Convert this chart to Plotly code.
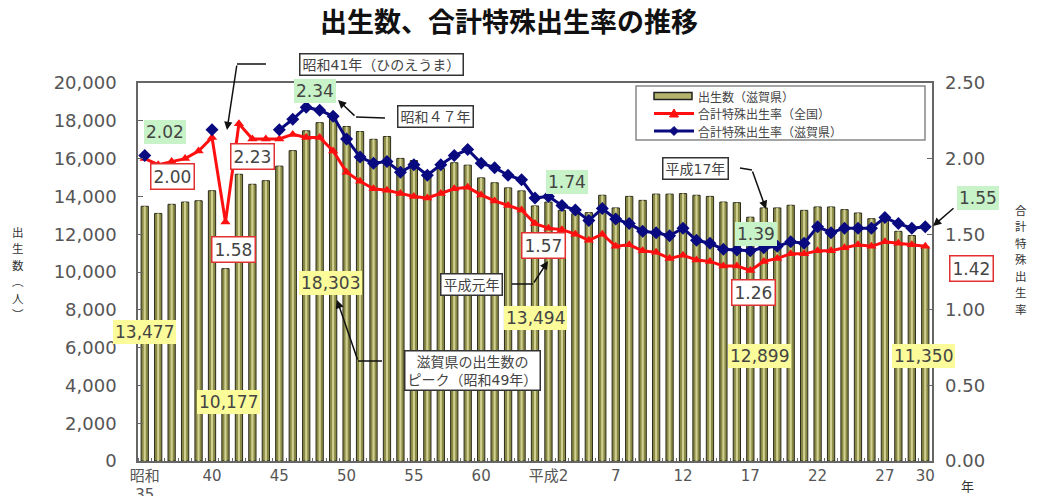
import plotly.graph_objects as go

# ---------------- data ----------------
years = list(range(1960, 2019))

births_shiga = [
    13477, 13100, 13580, 13700, 13770, 14300, 10177, 15170, 14640, 14830,
    15600, 16420, 17470, 17900, 18303, 17700, 17430, 17020, 17170, 16010,
    15900, 15320, 15480, 15780, 15650, 14980, 14720, 14450, 14290, 13494,
    13700, 13260, 13085, 13140, 14060, 13390, 14000, 13790, 14120, 14120,
    14150, 14060, 14000, 13700, 13670, 12899, 13390, 13390, 13530, 13260,
    13440, 13440, 13300, 13120, 12820, 12900, 12150, 11930, 11350,
]

tfr_national = [
    2.00, 1.96, 1.98, 2.00, 2.05, 2.14, 1.58, 2.23, 2.13, 2.13,
    2.13, 2.16, 2.14, 2.14, 2.05, 1.91, 1.85, 1.80, 1.79, 1.77,
    1.75, 1.74, 1.77, 1.80, 1.81, 1.76, 1.72, 1.69, 1.66, 1.57,
    1.54, 1.53, 1.50, 1.46, 1.50, 1.42, 1.43, 1.39, 1.38, 1.34,
    1.36, 1.33, 1.32, 1.29, 1.29, 1.26, 1.32, 1.34, 1.37, 1.37,
    1.39, 1.39, 1.41, 1.43, 1.42, 1.45, 1.44, 1.43, 1.42,
]

# Shiga TFR: only census years (1960, 1965) before 1970
tfr_shiga = [
    2.02, None, None, None, None, 2.19, None, None, None, None,
    2.19, 2.26, 2.34, 2.32, 2.28, 2.13, 2.01, 1.97, 1.98, 1.91,
    1.96, 1.89, 1.96, 2.02, 2.06, 1.97, 1.94, 1.89, 1.86, 1.74,
    1.75, 1.69, 1.66, 1.59, 1.67, 1.60, 1.57, 1.52, 1.51, 1.49,
    1.54, 1.46, 1.44, 1.40, 1.395, 1.39, 1.41, 1.42, 1.45, 1.44,
    1.55, 1.51, 1.54, 1.54, 1.54, 1.61, 1.57, 1.54, 1.55,
]

x_tick_years = [1960, 1965, 1970, 1975, 1980, 1985, 1990, 1995, 2000, 2005, 2010, 2015, 2018]
x_tick_text = ["昭和<br>35", "40", "45", "50", "55", "60", "平成2", "7", "12", "17", "22", "27", "30"]

left_ticks = [0, 2000, 4000, 6000, 8000, 10000, 12000, 14000, 16000, 18000, 20000]
right_ticks = [0.0, 0.5, 1.0, 1.5, 2.0, 2.5]

legend_names = ["出生数（滋賀県）", "合計特殊出生率（全国）", "合計特殊出生率（滋賀県）"]
left_title_chars = ["出", "生", "数", "︵", "人", "︶"]
right_title_chars = ["合", "計", "特", "殊", "出", "生", "率"]

# ---------------- layout geometry ----------------
W, H = 1037, 496
L, R, T, B = 138, 932, 83, 461


def X(px):
    return (px - L) / (R - L)


def Y(py):
    return (B - py) / (B - T)


FONT = "DejaVu Sans, Noto Sans CJK JP, sans-serif"
JFONT = "Noto Sans CJK JP, sans-serif"
GRAY = "#555555"
BAR_FILL = "#8a8a46"
BAR_LINE = "#2b2b1c"
BAR_HI = "#d0d090"
RED = "#ff1010"
NAVY = "#0a0a80"

fig = go.Figure()

fig.add_trace(go.Bar(
    x=years, y=births_shiga, name=legend_names[0], width=0.54, showlegend=False,
    marker=dict(color=BAR_FILL, line=dict(color=BAR_LINE, width=1)),
))
fig.add_trace(go.Bar(
    x=years, y=births_shiga, width=0.16, showlegend=False, hoverinfo="skip",
    marker=dict(color=BAR_HI, line=dict(width=0)),
))
fig.add_trace(go.Scatter(
    x=years, y=tfr_national, name=legend_names[1], yaxis="y2", mode="lines+markers",
    line=dict(color=RED, width=3), showlegend=False,
    marker=dict(symbol="triangle-up", size=9, color=RED),
))
fig.add_trace(go.Scatter(
    x=years, y=tfr_shiga, name=legend_names[2], yaxis="y2", mode="lines+markers",
    line=dict(color=NAVY, width=3), connectgaps=False, showlegend=False,
    marker=dict(symbol="diamond", size=10, color=NAVY),
))

annotations = []
shapes = []


def box(text, cx, cy, kind, size=16):
    styles = {
        "green": dict(bgcolor="#c8f3c8", bordercolor="rgba(0,0,0,0)", borderwidth=0),
        "red": dict(bgcolor="#ffffff", bordercolor="#e23030", borderwidth=1.5),
        "yellow": dict(bgcolor="#fbfb9a", bordercolor="rgba(0,0,0,0)", borderwidth=0),
        "black": dict(bgcolor="#ffffff", bordercolor="#333333", borderwidth=1.5),
    }
    annotations.append(dict(
        text=text, x=X(cx), y=Y(cy), xref="paper", yref="paper",
        showarrow=False, xanchor="center", yanchor="middle",
        font=dict(size=size, color="#444444", family=FONT),
        borderpad=2, **styles[kind],
    ))


# green (Shiga TFR)
box("2.02", 165, 132, "green", 17)
box("2.34", 315, 91, "green", 17)
box("1.74", 567, 182, "green", 17)
box("1.39", 756, 234, "green", 17)
box("1.55", 978, 198, "green", 17)
# red-bordered (national TFR)
box("2.00", 172, 176, "red", 17)
box("2.23", 252, 156, "red", 17)
box("1.58", 233, 249, "red", 17)
box("1.57", 543, 245, "red", 17)
box("1.26", 753, 292, "red", 17)
box("1.42", 971, 268, "red", 17)
# yellow (births)
box("13,477", 144, 332, "yellow", 17)
box("10,177", 228, 402, "yellow", 17)
box("18,303", 330, 283, "yellow", 17)
box("13,494", 535, 318, "yellow", 17)
box("12,899", 759, 356, "yellow", 17)
box("11,350", 923, 356, "yellow", 17)
# black boxes
box("昭和41年（ひのえうま）", 381, 64, "black", 14)
box("昭和４７年", 435, 116, "black", 14)
box("平成元年", 471, 284, "black", 14)
box("滋賀県の出生数の<br>ピーク（昭和49年）", 472, 370, "black", 14)
box("平成17年", 695, 168, "black", 14)

# arrows (polyline parts as shapes, final segment with arrowhead)
arrow_paths = [
    [(266, 64), (237, 64), (227, 130)],
    [(385, 118), (356, 117), (338, 100)],
    [(512, 284), (533, 284), (548, 261)],
    [(382, 361), (358, 361), (337, 300)],
    [(740, 168), (752, 170), (766, 209)],
    [(955, 207), (933, 226)],
]
for pts in arrow_paths:
    for (x0, y0), (x1, y1) in zip(pts[:-2], pts[1:-1]):
        shapes.append(dict(type="line", xref="paper", yref="paper",
                           x0=X(x0), y0=Y(y0), x1=X(x1), y1=Y(y1),
                           line=dict(color="#111111", width=1.5)))
    (tx, ty), (hx, hy) = pts[-2], pts[-1]
    annotations.append(dict(
        text="", x=X(hx), y=Y(hy), xref="paper", yref="paper",
        ax=tx - hx, ay=ty - hy, axref="pixel", ayref="pixel",
        showarrow=True, arrowhead=2, arrowsize=1.1, arrowwidth=1.5, arrowcolor="#111111",
        standoff=0, startstandoff=0,
    ))

# ---------------- hand-drawn legend ----------------
LG_X0, LG_X1, LG_Y0, LG_Y1 = 636, 925, 86, 140
shapes.append(dict(type="rect", xref="paper", yref="paper", layer="above",
                   x0=X(LG_X0), x1=X(LG_X1), y0=Y(LG_Y1), y1=Y(LG_Y0),
                   fillcolor="white", line=dict(color="#888888", width=1.5)))
rows_y = [96, 113.5, 131]
sx0, sx1, sxm = 654, 694, 674
# bar symbol
shapes.append(dict(type="rect", xref="paper", yref="paper", layer="above",
                   x0=X(sx0), x1=X(sx1 - 2), y0=Y(rows_y[0] + 3.5), y1=Y(rows_y[0] - 3.5),
                   fillcolor="#b4b46c", line=dict(color="#222222", width=1.5)))
# line symbols
for ry, col, kind in [(rows_y[1], RED, "tri"), (rows_y[2], NAVY, "dia")]:
    shapes.append(dict(type="line", xref="paper", yref="paper", layer="above",
                       x0=X(sx0), x1=X(sx1), y0=Y(ry), y1=Y(ry), line=dict(color=col, width=3)))
    if kind == "tri":
        pts = [(sxm - 4.5, ry + 3.5), (sxm + 4.5, ry + 3.5), (sxm, ry - 4.5)]
    else:
        pts = [(sxm - 4.5, ry), (sxm, ry - 4.5), (sxm + 4.5, ry), (sxm, ry + 4.5)]
    path = "M " + " L ".join(f"{X(a):.5f},{Y(b):.5f}" for a, b in pts) + " Z"
    shapes.append(dict(type="path", xref="paper", yref="paper", layer="above",
                       path=path, fillcolor=col, line=dict(color=col, width=1)))
for name, ry in zip(legend_names, rows_y):
    annotations.append(dict(text=name, x=X(696), y=Y(ry), xref="paper", yref="paper",
                            showarrow=False, xanchor="left", yanchor="middle",
                            font=dict(size=12, color="#444444", family=JFONT)))

# vertical axis titles (one character per annotation)
STEP = 16.5
for i, ch in enumerate(left_title_chars):
    cy = 273 + (i - (len(left_title_chars) - 1) / 2) * STEP
    annotations.append(dict(text=ch, x=X(18), y=Y(cy), xref="paper", yref="paper",
                            showarrow=False, xanchor="center", yanchor="middle",
                            font=dict(size=11.5, color="#333333", family=JFONT)))
for i, ch in enumerate(right_title_chars):
    cy = 259 + (i - (len(right_title_chars) - 1) / 2) * STEP
    annotations.append(dict(text=ch, x=X(1021), y=Y(cy), xref="paper", yref="paper",
                            showarrow=False, xanchor="center", yanchor="middle",
                            font=dict(size=11.5, color="#333333", family=JFONT)))
annotations.append(dict(text="年", x=X(967), y=Y(486), xref="paper", yref="paper",
                        showarrow=False, xanchor="center", yanchor="middle",
                        font=dict(size=13, color="#333333", family=JFONT)))

fig.update_layout(
    width=W, height=H, autosize=False,
    margin=dict(l=L, r=W - R, t=T, b=H - B, pad=0, autoexpand=False),
    paper_bgcolor="white", plot_bgcolor="white",
    barmode="overlay", showlegend=False,
    font=dict(family=FONT, color=GRAY),
    title=dict(text="<b>出生数、合計特殊出生率の推移</b>", x=509 / W, y=1 - 23 / H,
               xanchor="center", yanchor="middle", xref="container", yref="container",
               font=dict(size=27, color="#111111", family=JFONT)),
    xaxis=dict(range=[1959.5, 2018.5], tickmode="array", tickvals=x_tick_years, ticktext=x_tick_text,
               ticks="", showgrid=False, showline=True, linecolor="#666666", linewidth=1.5, mirror=True,
               tickfont=dict(size=15, color=GRAY, family=FONT), zeroline=False, automargin=False,
               minor=dict(ticks="inside", tick0=1959.5, dtick=1, ticklen=3, tickcolor="#666666", showgrid=False)),
    yaxis=dict(range=[0, 20000], tickmode="array", tickvals=left_ticks,
               ticktext=[f"{v:,}" for v in left_ticks], automargin=False,
               ticks="inside", ticklen=5, tickcolor="#666666", showgrid=False, zeroline=False,
               showline=True, linecolor="#666666", linewidth=1.5, mirror=True,
               tickfont=dict(size=18, color=GRAY, family=FONT), ticklabelstandoff=16),
    yaxis2=dict(range=[0, 2.5], overlaying="y", side="right", tickmode="array", tickvals=right_ticks,
                ticktext=[f"{v:.2f}" for v in right_ticks], automargin=False,
                ticks="inside", ticklen=5, tickcolor="#666666", showgrid=False, zeroline=False,
                showline=False, tickfont=dict(size=18, color=GRAY, family=FONT), ticklabelstandoff=12),
    annotations=annotations,
    shapes=shapes,
)

fig.write_html("out.html", config={"displayModeBar": False},
               post_script="document.body.style.margin='0';")
